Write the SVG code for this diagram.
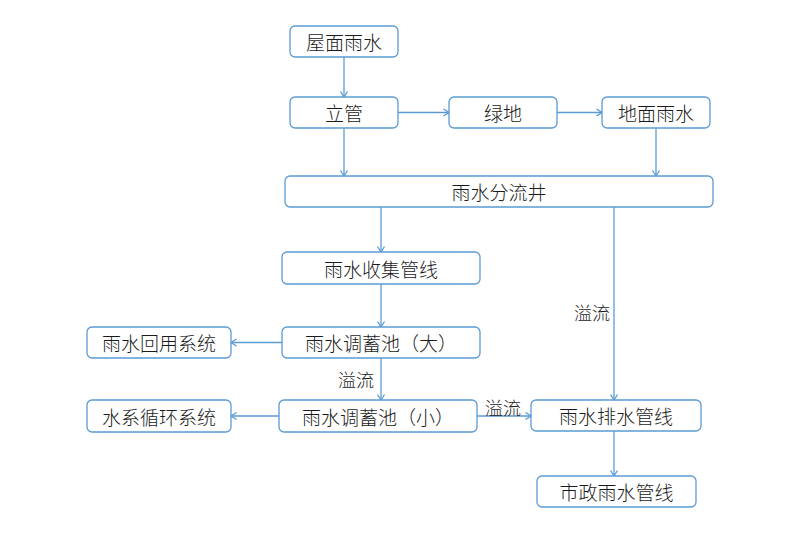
<svg xmlns="http://www.w3.org/2000/svg" width="800" height="533" viewBox="0 0 800 533">
<style>
.box{fill:#fff;stroke:#5b9bd5;stroke-width:1.3}
.t{font-family:"Noto Sans CJK SC","Noto Sans",sans-serif;font-size:19px;font-weight:300;fill:#1a1a1a;text-anchor:middle;dominant-baseline:central}
.l{font-family:"Noto Sans CJK SC","Noto Sans",sans-serif;font-size:18px;font-weight:300;fill:#1a1a1a;dominant-baseline:central}
.c{fill:none;stroke:#5b9bd5;stroke-width:1.3}
</style>
<defs>
<marker id="ah" markerWidth="10" markerHeight="10" viewBox="0 0 10 10" refX="9.5" refY="5" orient="auto" markerUnits="userSpaceOnUse">
<polyline points="4,1.5 9.5,5 4,8.5" fill="none" stroke="#5b9bd5" stroke-width="1.3"/>
</marker>
</defs>
<rect width="800" height="533" fill="#fff"/>
<g id="connectors">
<line class="c" x1="344" y1="57" x2="344" y2="97" marker-end="url(#ah)"/>
<line class="c" x1="398" y1="112.5" x2="449" y2="112.5" marker-end="url(#ah)"/>
<line class="c" x1="557" y1="112.5" x2="602" y2="112.5" marker-end="url(#ah)"/>
<line class="c" x1="344" y1="128" x2="344" y2="176" marker-end="url(#ah)"/>
<line class="c" x1="656" y1="128" x2="656" y2="176" marker-end="url(#ah)"/>
<line class="c" x1="381" y1="207" x2="381" y2="252" marker-end="url(#ah)"/>
<line class="c" x1="381" y1="284" x2="381" y2="327" marker-end="url(#ah)"/>
<line class="c" x1="282" y1="342.5" x2="231" y2="342.5" marker-end="url(#ah)"/>
<line class="c" x1="381" y1="358" x2="381" y2="400" marker-end="url(#ah)"/>
<line class="c" x1="279" y1="416" x2="231" y2="416" marker-end="url(#ah)"/>
<line class="c" x1="477" y1="416" x2="531" y2="416" marker-end="url(#ah)"/>
<line class="c" x1="614" y1="207" x2="614" y2="400" marker-end="url(#ah)"/>
<line class="c" x1="614" y1="431" x2="614" y2="476" marker-end="url(#ah)"/>
<text class="l" x="574" y="312">溢流</text>
<text class="l" x="338" y="379">溢流</text>
<text class="l" x="485" y="407">溢流</text>
</g>
<g id="n1"><rect class="box" x="290" y="26" width="108" height="31" rx="5"/><text class="t" x="344" y="41.5">屋面雨水</text></g>
<g id="n2"><rect class="box" x="290" y="97" width="108" height="31" rx="5"/><text class="t" x="344" y="112.5">立管</text></g>
<g id="n3"><rect class="box" x="449" y="97" width="108" height="31" rx="5"/><text class="t" x="503" y="112.5">绿地</text></g>
<g id="n4"><rect class="box" x="602" y="97" width="108" height="31" rx="5"/><text class="t" x="656" y="112.5">地面雨水</text></g>
<g id="n5"><rect class="box" x="285" y="176" width="428" height="31" rx="5"/><text class="t" x="499" y="191.5">雨水分流井</text></g>
<g id="n6"><rect class="box" x="282" y="252" width="198" height="32" rx="5"/><text class="t" x="381" y="268">雨水收集管线</text></g>
<g id="n7"><rect class="box" x="282" y="327" width="198" height="31" rx="5"/><text class="t" x="381" y="342.5">雨水调蓄池（大）</text></g>
<g id="n8"><rect class="box" x="87" y="327" width="144" height="31" rx="5"/><text class="t" x="159" y="342.5">雨水回用系统</text></g>
<g id="n9"><rect class="box" x="279" y="400" width="198" height="32" rx="5"/><text class="t" x="378" y="416">雨水调蓄池（小）</text></g>
<g id="n10"><rect class="box" x="87" y="400" width="144" height="32" rx="5"/><text class="t" x="159" y="416">水系循环系统</text></g>
<g id="n11"><rect class="box" x="531" y="400" width="170" height="31" rx="5"/><text class="t" x="616" y="415.5">雨水排水管线</text></g>
<g id="n12"><rect class="box" x="537" y="476" width="159" height="31" rx="5"/><text class="t" x="616.5" y="491.5">市政雨水管线</text></g>
</svg>
